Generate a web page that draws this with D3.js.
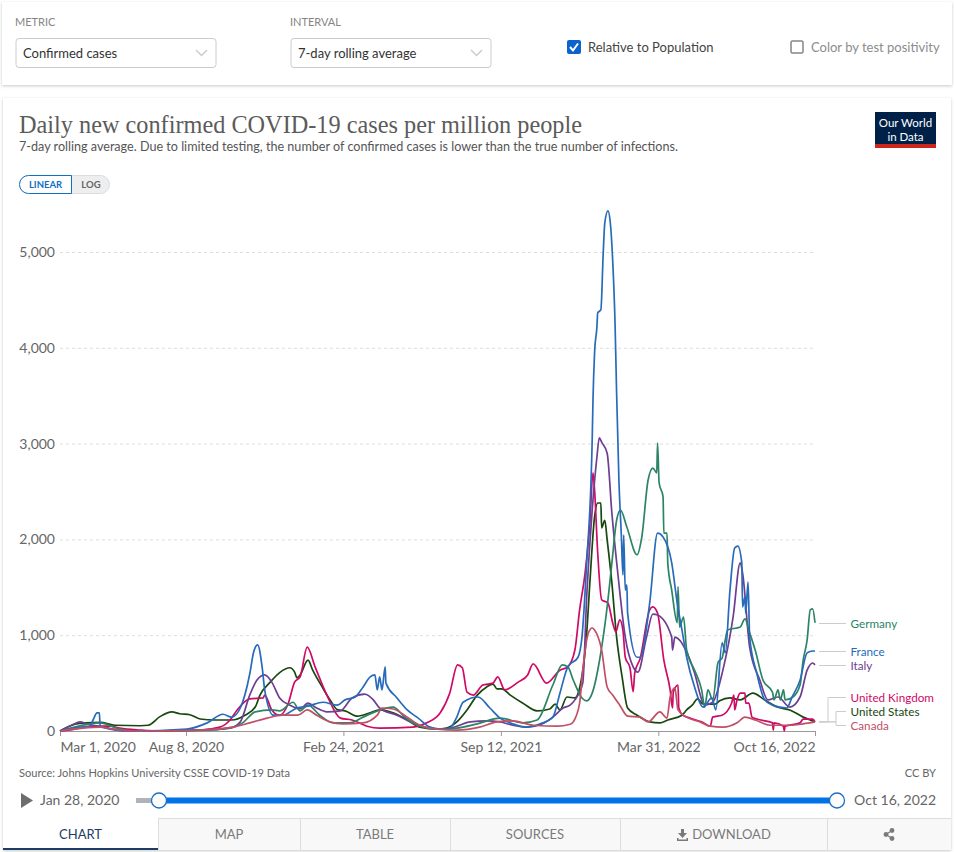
<!DOCTYPE html>
<html>
<head>
<meta charset="utf-8">
<script src="https://cdn.jsdelivr.net/npm/d3@7"></script>
<style>
  html, body { margin: 0; padding: 0; background: #fff; }
  svg { display: block; font-family: Lato, "Open Sans", sans-serif; }
</style>
</head>
<body>
<script>
//values: [days since the first tick, new cases per million]
var germany = [[0,0],[34,70],[51,85],[72,30],[93,0],[178,5],[220,40],[232,85],[248,200],[269,220],[279,210],[296,300],[305,210],[315,270],[330,165],[347,85],[368,85],[385,145],[400,200],[423,250],[438,145],[457,50],[479,20],[504,30],[530,75],[559,135],[588,85],[606,115],[626,480],[638,690],[645,670],[652,530],[663,345],[669,315],[676,395],[686,770],[695,1295],[701,1755],[707,2200],[712,2305],[720,2130],[733,1840],[739,2025],[747,2620],[753,2745],[758,2695],[759,3005],[761,2590],[766,2445],[767,2065],[771,2065],[772,1755],[777,1470],[784,1130],[785,1505],[787,1085],[792,1190],[796,845],[806,635],[815,430],[819,250],[823,430],[829,325],[836,720],[841,760],[845,950],[848,1055],[864,1085],[870,1170],[876,1025],[883,845],[893,530],[905,405],[907,325],[912,430],[915,325],[919,430],[921,325],[931,355],[940,480],[944,740],[949,950],[953,1265],[956,1275],[959,1130]];
var france = [[0,0],[25,40],[38,50],[42,115],[47,190],[50,190],[51,50],[72,10],[93,0],[161,20],[187,85],[207,175],[218,145],[229,240],[241,595],[246,825],[251,900],[257,650],[260,430],[271,165],[283,165],[301,240],[315,260],[334,300],[352,270],[362,325],[375,355],[385,460],[394,565],[400,585],[403,430],[406,565],[409,430],[413,670],[414,500],[428,345],[441,220],[455,135],[470,40],[483,20],[495,30],[504,145],[512,300],[531,355],[546,240],[559,135],[575,75],[593,40],[610,75],[626,145],[635,395],[645,670],[658,770],[663,980],[669,1755],[676,3040],[677,3455],[679,3945],[682,4220],[683,4365],[687,4395],[690,4990],[692,5305],[696,5430],[699,5305],[702,4915],[705,4260],[707,3530],[710,2600],[713,2045],[715,1630],[716,2045],[718,1470],[720,1525],[721,1230],[733,770],[737,770],[749,1335],[759,2065],[766,2025],[777,1755],[784,1335],[790,1055],[796,770],[806,460],[817,250],[828,345],[833,220],[841,920],[845,815],[851,1470],[857,1910],[861,1930],[866,1755],[867,1295],[870,1400],[871,1230],[874,1555],[876,980],[885,605],[895,325],[905,270],[923,240],[930,355],[940,530],[949,815],[956,835],[959,835]];
var italy = [[0,0],[17,70],[25,95],[36,70],[55,40],[85,0],[178,10],[216,30],[229,95],[241,375],[250,530],[260,585],[269,510],[279,345],[292,270],[305,230],[315,290],[326,240],[339,200],[356,210],[371,345],[387,385],[398,325],[406,240],[428,165],[448,85],[470,30],[491,20],[504,50],[521,95],[542,105],[559,95],[575,60],[593,40],[613,75],[626,145],[639,240],[648,270],[654,325],[664,500],[669,1400],[676,2305],[682,2860],[685,3060],[688,3015],[695,2900],[701,2275],[709,1610],[718,980],[728,670],[734,615],[745,980],[753,1220],[759,1210],[777,980],[778,845],[781,980],[796,825],[806,605],[817,290],[819,270],[829,300],[842,635],[855,1190],[864,1755],[867,1650],[876,875],[889,530],[899,325],[912,355],[927,250],[940,355],[949,635],[956,710],[959,690]];
var unitedKingdom = [[0,0],[19,20],[32,40],[51,50],[64,50],[76,30],[102,10],[127,0],[165,10],[178,10],[203,40],[216,115],[225,220],[241,335],[258,345],[260,375],[269,220],[279,165],[290,290],[298,510],[305,565],[314,875],[324,670],[340,355],[356,135],[371,115],[390,50],[406,30],[448,40],[466,85],[483,190],[495,395],[505,690],[511,660],[517,405],[525,375],[537,480],[550,500],[556,565],[565,430],[582,510],[594,585],[601,700],[618,500],[635,635],[645,670],[654,845],[660,1265],[667,1650],[673,2170],[677,2695],[679,2515],[683,1860],[688,1370],[696,1335],[702,1130],[706,1035],[711,1160],[715,1055],[718,770],[724,660],[728,410],[730,605],[737,760],[749,1265],[753,1295],[759,1230],[767,740],[775,430],[778,240],[779,405],[785,480],[786,240],[791,165],[800,135],[815,95],[826,50],[829,145],[841,165],[853,290],[856,375],[857,220],[860,325],[864,395],[870,395],[871,290],[875,290],[879,145],[885,125],[905,85],[906,10],[907,85],[919,50],[920,0],[921,50],[940,85],[944,125],[956,125],[959,95]];
var unitedStates = [[0,0],[19,70],[32,85],[51,90],[70,60],[102,55],[112,60],[127,150],[142,200],[152,180],[165,170],[178,125],[197,115],[218,115],[235,165],[248,250],[254,375],[267,510],[279,610],[292,660],[298,615],[301,555],[305,585],[315,740],[321,635],[333,460],[343,325],[353,220],[362,210],[378,155],[394,190],[406,220],[423,190],[441,115],[457,40],[479,20],[491,30],[504,95],[517,220],[530,375],[542,460],[550,490],[555,440],[561,440],[572,375],[588,290],[606,210],[622,230],[629,280],[635,220],[644,355],[654,345],[660,450],[669,1020],[673,1545],[679,2235],[683,2380],[687,2380],[688,2120],[692,2200],[695,1995],[701,1545],[707,980],[714,565],[721,240],[733,165],[749,95],[762,85],[772,115],[790,165],[796,220],[803,270],[810,335],[817,280],[832,280],[838,315],[851,345],[864,325],[880,395],[895,325],[911,250],[927,220],[944,145],[956,105],[959,95]];
var canada = [[0,0],[29,30],[51,40],[67,20],[93,0],[178,10],[220,40],[241,85],[263,135],[283,165],[302,165],[314,220],[326,165],[343,95],[359,75],[385,85],[403,165],[409,240],[423,230],[441,145],[457,60],[479,20],[504,10],[533,40],[555,95],[575,105],[601,60],[631,50],[648,70],[652,95],[660,290],[664,635],[671,1020],[676,1075],[679,1055],[688,845],[695,460],[702,375],[711,270],[721,155],[737,145],[747,95],[762,200],[771,135],[775,355],[781,450],[785,220],[796,145],[813,95],[826,50],[842,40],[860,85],[870,145],[883,115],[902,60],[927,60],[944,75],[959,95]];

var countries = ['United States', 'United Kingdom', 'Italy', 'Germany', 'France', 'Canada'];
var countrySeries = [unitedStates, unitedKingdom, italy, germany, france, canada];
var countryColors = ['#18470f', '#cf0a66', '#6d3e91', '#2c8465', '#286bbb', '#c15065'];

var yTicks = [0, 1000, 2000, 3000, 4000, 5000];
var xTickDates = ['2020-03-01', '2020-08-08', '2021-02-24', '2021-09-12', '2022-03-31', '2022-10-16'];
var xTickLabels = ['Mar 1, 2020', 'Aug 8, 2020', 'Feb 24, 2021', 'Sep 12, 2021', 'Mar 31, 2022', 'Oct 16, 2022'];

var tabNames = ['CHART', 'MAP', 'TABLE', 'SOURCES', 'DOWNLOAD'];
var tabEdges = [3, 158, 300, 450, 620, 827, 951];

var parseDate = d3.utcParse('%Y-%m-%d');
var firstDay = parseDate(xTickDates[0]);
var lastDay = parseDate(xTickDates[5]);

var svg = d3.select('body').append('svg').attr('width', 954).attr('height', 852);

var defs = svg.append('defs');
var blur = defs.append('filter').attr('id', 'shadow').attr('x', '-2%').attr('y', '-5%').attr('width', '104%').attr('height', '110%');
blur.append('feDropShadow').attr('dx', 0).attr('dy', 1).attr('stdDeviation', 1.5).attr('flood-color', '#000').attr('flood-opacity', 0.22);

//adds a text and hands it back
function label(x, y, str, size, color, anchor) {
  return svg.append('text').attr('x', x).attr('y', y).attr('font-size', size)
    .attr('fill', color).attr('text-anchor', anchor || 'start').text(str);
}

//the two white cards
svg.append('rect').attr('x', 2).attr('y', 2).attr('width', 950).attr('height', 83).attr('fill', '#fff').attr('filter', 'url(#shadow)');
svg.append('rect').attr('x', 3).attr('y', 98).attr('width', 948).attr('height', 752).attr('fill', '#fff').attr('filter', 'url(#shadow)');

//dropdown with its caption
function dropdown(x, caption, value) {
  label(x - 1, 26, caption, 11, '#858585');
  svg.append('rect').attr('x', x).attr('y', 38.5).attr('width', 200).attr('height', 29).attr('rx', 3)
    .attr('fill', '#fff').attr('stroke', '#ccc');
  label(x + 7, 58, value, 13, '#333');
  svg.append('path').attr('d', 'M' + (x + 180) + ',50 l5.5,5.5 l5.5,-5.5').attr('fill', 'none').attr('stroke', '#ccc').attr('stroke-width', 1.5);
}
dropdown(16, 'METRIC', 'Confirmed cases');
dropdown(291, 'INTERVAL', '7-day rolling average');

//checkboxes
svg.append('rect').attr('x', 567).attr('y', 40).attr('width', 14).attr('height', 14).attr('rx', 2).attr('fill', '#0b63ce');
svg.append('path').attr('d', 'M570,47 l3,3.5 l5,-7').attr('fill', 'none').attr('stroke', '#fff').attr('stroke-width', 2);
label(588, 52, 'Relative to Population', 13, '#444');
svg.append('rect').attr('x', 791).attr('y', 41).attr('width', 12).attr('height', 12).attr('rx', 1.5).attr('fill', '#fff').attr('stroke', '#858585').attr('stroke-width', 1.5);
label(811, 52, 'Color by test positivity', 13, '#8c8c8c');

//header
label(19, 133, 'Daily new confirmed COVID-19 cases per million people', 24.5, '#5b5b5b')
  .attr('font-family', '"Liberation Serif", serif').attr('textLength', 563).attr('lengthAdjust', 'spacingAndGlyphs');
label(19, 151, '7-day rolling average. Due to limited testing, the number of confirmed cases is lower than the true number of infections.', 12.6, '#555');

svg.append('rect').attr('x', 875).attr('y', 112).attr('width', 61).attr('height', 36).attr('fill', '#002147');
svg.append('rect').attr('x', 875).attr('y', 144).attr('width', 61).attr('height', 4).attr('fill', '#ce261e');
label(905.5, 127, 'Our World', 11.5, '#fff', 'middle');
label(905.5, 141, 'in Data', 11.5, '#fff', 'middle');

//linear / log toggle
svg.append('rect').attr('x', 19.5).attr('y', 175.5).attr('width', 90).attr('height', 18).attr('rx', 9).attr('fill', '#eee').attr('stroke', '#ddd');
svg.append('path').attr('d', 'M71.5,175.5 H28.5 a9,9 0 0 0 0,18 H71.5 Z').attr('fill', '#fff').attr('stroke', '#1170c4');
label(45.5, 188, 'LINEAR', 9.5, '#1170c4', 'middle').attr('font-weight', 700);
label(91, 188, 'LOG', 9.5, '#666', 'middle').attr('font-weight', 700);

//scales
var x = d3.scaleUtc().domain([firstDay, lastDay]).range([60, 815]);
var y = d3.scaleLinear().domain([0, 5000]).range([731, 252]);

function dayToDate(d) { return d3.utcDay.offset(firstDay, d[0]); }

//gridlines and y labels
var yAxis = svg.append('g').attr('transform', 'translate(60,0)')
  .call(d3.axisLeft(y).tickValues(yTicks).tickSize(-755).tickPadding(5).tickFormat(d3.format(',')));
yAxis.select('.domain').remove();
yAxis.selectAll('line').attr('stroke', '#ddd').attr('stroke-dasharray', '3,3')
  .filter(function(d) { return d === 0; }).remove();
yAxis.selectAll('text').attr('font-size', 14).attr('font-family', 'Lato').attr('fill', '#666');

//x axis
var xAxis = svg.append('g').attr('transform', 'translate(0,731)')
  .call(d3.axisBottom(x).tickValues(xTickDates.map(parseDate)).tickSizeOuter(0).tickSize(5).tickPadding(6)
    .tickFormat(function(d, i) { return xTickLabels[i]; }));
xAxis.select('.domain').attr('stroke', '#999');
xAxis.selectAll('line').attr('stroke', '#999');
xAxis.selectAll('text').attr('font-size', 14).attr('font-family', 'Lato').attr('fill', '#666')
  .attr('text-anchor', function(d, i) { return i === 0 ? 'start' : (i === 5 ? 'end' : 'middle'); });

//country lines
var line = d3.line().curve(d3.curveMonotoneX).x(function(d) { return x(dayToDate(d)); }).y(function(d) { return y(d[1]); });
svg.append('g').selectAll('path').data(countrySeries).enter().append('path')
  .attr('d', line).attr('fill', 'none').attr('stroke-width', 1.7).attr('stroke-linejoin', 'round')
  .attr('stroke', function(d, i) { return countryColors[i]; });

//labels on the right, with the elbow that ties them to the line ends
var labelOrder = ['Germany', 'France', 'Italy', 'United Kingdom', 'United States', 'Canada'];
var labelTops = [623.5, 651.5, 665.5, 697.5, 711.5, 725.5];
var elbowAt = [null, null, null, 828, 836, 836];
labelOrder.forEach(function(name, i) {
  var k = countries.indexOf(name);
  var series = countrySeries[k];
  var endY = y(series[series.length - 1][1]);
  var elbow = elbowAt[i];
  var points = elbow === null
    ? [[819, labelTops[i]], [846, labelTops[i]]]
    : [[819, endY], [elbow, endY], [elbow, labelTops[i]], [846, labelTops[i]]];
  svg.append('path').attr('d', d3.line()(points)).attr('fill', 'none').attr('stroke', '#ccc');
  label(850.5, labelTops[i] + 4, name, 11.7, countryColors[k]);
});

//footer
label(19, 777, 'Source: Johns Hopkins University CSSE COVID-19 Data', 11.1, '#666');
label(936, 777, 'CC BY', 11.1, '#666', 'end');

//timeline
svg.append('path').attr('d', 'M21,793 L33,800.5 L21,808 Z').attr('fill', '#6e6e6e');
label(40, 805, 'Jan 28, 2020', 14, '#666');
label(936, 805, 'Oct 16, 2022', 14, '#666', 'end');
svg.append('rect').attr('x', 136).attr('y', 798).attr('width', 24).attr('height', 5).attr('fill', '#adb3bb');
svg.append('rect').attr('x', 159).attr('y', 797.5).attr('width', 678).attr('height', 6).attr('fill', '#0073e6');
[159, 837].forEach(function(cx) {
  svg.append('circle').attr('cx', cx).attr('cy', 800.5).attr('r', 7.5).attr('fill', '#fff').attr('stroke', '#1b6fc2').attr('stroke-width', 1.3);
});

//tabs
tabNames.concat(['']).forEach(function(name, i) {
  var left = tabEdges[i], right = tabEdges[i + 1];
  svg.append('rect').attr('x', left).attr('y', 818).attr('width', right - left).attr('height', 32)
    .attr('fill', i === 0 ? '#fff' : '#f8f8f8');
  if (i > 0) {
    svg.append('path').attr('d', 'M' + (left + 0.5) + ',818 V850').attr('stroke', '#ddd');
    svg.append('path').attr('d', 'M' + left + ',818.5 H' + right).attr('stroke', '#ddd');
  }
  var mid = (left + right) / 2;
  if (name === 'DOWNLOAD') mid += 8;
  if (name) label(mid, 839, name, 13, i === 0 ? '#1d3d63' : '#7a7a7a', 'middle');
});
svg.append('rect').attr('x', 3).attr('y', 848).attr('width', 155).attr('height', 2).attr('fill', '#1d3d63');

//download icon
svg.append('path').attr('d', 'M681,829 h3 v4 h3 l-4.5,5 l-4.5,-5 h3 Z M677,838 v3 h11 v-3 h-1.5 v1.5 h-8 v-1.5 Z').attr('fill', '#7a7a7a');
//share icon
svg.append('path').attr('d', 'M892,830.5 L886,834.5 L892,838.5').attr('fill', 'none').attr('stroke', '#7a7a7a').attr('stroke-width', 1.2);
[[892, 830.5], [886, 834.5], [892, 838.5]].forEach(function(p) {
  svg.append('circle').attr('cx', p[0]).attr('cy', p[1]).attr('r', 2.4).attr('fill', '#7a7a7a');
});
</script>
</body>
</html>
